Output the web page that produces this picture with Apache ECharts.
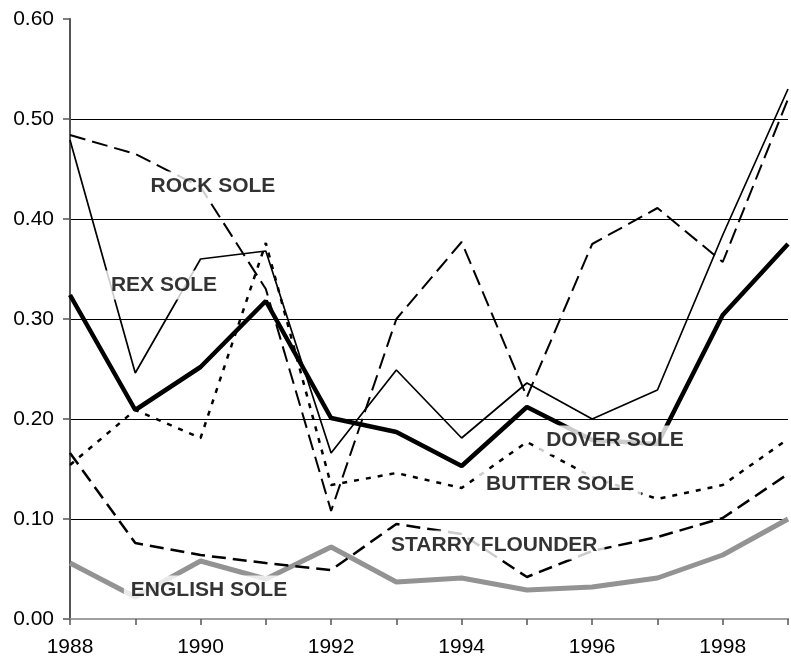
<!DOCTYPE html>
<html>
<head>
<meta charset="utf-8">
<script src="https://cdn.jsdelivr.net/npm/echarts@6/dist/echarts.min.js"></script>
<style>
html,body{margin:0;padding:0;background:#fff;}
#chart{width:791px;height:664px;}
</style>
</head>
<body>
<div id="chart"></div>
<script>
var years = [1988, 1989, 1990, 1991, 1992, 1993, 1994, 1995, 1996, 1997, 1998, 1999];
var rockSole       = [0.484, 0.465, 0.432, 0.330, 0.108, 0.300, 0.377, 0.222, 0.375, 0.411, 0.357, 0.520];
var rexSole        = [0.479, 0.246, 0.360, 0.368, 0.166, 0.249, 0.181, 0.236, 0.200, 0.229, 0.384, 0.530];
var doverSole      = [0.324, 0.209, 0.252, 0.318, 0.201, 0.187, 0.153, 0.212, 0.179, 0.175, 0.304, 0.375];
var butterSole     = [0.154, 0.209, 0.181, 0.376, 0.134, 0.146, 0.131, 0.177, 0.142, 0.120, 0.134, 0.180];
var starryFlounder = [0.166, 0.076, 0.064, 0.056, 0.049, 0.095, 0.085, 0.042, 0.068, 0.082, 0.101, 0.145];
var englishSole    = [0.056, 0.022, 0.058, 0.040, 0.072, 0.037, 0.041, 0.029, 0.032, 0.041, 0.064, 0.100];

var seriesNames = ['ROCK SOLE', 'REX SOLE', 'DOVER SOLE', 'BUTTER SOLE', 'STARRY FLOUNDER', 'ENGLISH SOLE'];
// annotation anchors (data space) for the in-plot series names
var labelYears  = [1990.19, 1989.44, 1996.35, 1995.51, 1994.50, 1990.13];
var labelValues = [0.433, 0.334, 0.179, 0.135, 0.074, 0.029];

function pairs(vals) { return years.map(function (y, i) { return [y, vals[i]]; }); }

var FONT = '"Liberation Sans", Arial, Helvetica, sans-serif';

var chart = echarts.init(document.getElementById('chart'), null, {renderer: 'canvas'});

function lineSeries(name, vals, style, z) {
  return {
    name: name, type: 'line', data: pairs(vals), symbol: 'none', z: z || 2,
    lineStyle: style, animation: false
  };
}

chart.setOption({
  animation: false,
  backgroundColor: '#ffffff',
  grid: {left: 70, top: 19, width: 725, height: 600},
  xAxis: [{
    type: 'value', min: 1988, max: 1999, interval: 1,
    axisLine: {show: true, onZero: false, lineStyle: {color: '#666', width: 2}},
    axisTick: {show: true, length: 6, lineStyle: {color: '#555', width: 1.5}},
    axisLabel: {
      fontFamily: FONT, fontSize: 21, color: '#000', margin: 18,
      formatter: function (v) { return (v % 2 === 0 && v < 1999) ? String(v) : ''; }
    },
    splitLine: {show: false}
  }, {
    type: 'value', min: 1988, max: 1999, position: 'top',
    axisLine: {show: true, lineStyle: {color: '#a0a0a0', width: 2}},
    axisTick: {show: false}, axisLabel: {show: false}, splitLine: {show: false}
  }],
  yAxis: {
    type: 'value', min: 0, max: 0.6, interval: 0.1,
    axisLine: {show: true, lineStyle: {color: '#555', width: 2}},
    axisTick: {show: true, length: 7, lineStyle: {color: '#555', width: 1.5}},
    axisLabel: {
      fontFamily: FONT, fontSize: 21, color: '#000', margin: 16,
      formatter: function (v) { return v.toFixed(2); }
    },
    splitLine: {show: true, showMinLine: false, showMaxLine: false, lineStyle: {color: '#000', width: 1}}
  },
  series: [
    lineSeries('ENGLISH SOLE', englishSole, {color: '#939393', width: 5}),
    lineSeries('STARRY FLOUNDER', starryFlounder, {color: '#000', width: 2.5, type: [14, 7], cap: 'butt'}),
    lineSeries('BUTTER SOLE', butterSole, {color: '#000', width: 2.5, type: [5, 7], cap: 'butt'}),
    lineSeries('ROCK SOLE', rockSole, {color: '#000', width: 2, type: [16, 7], cap: 'butt'}),
    lineSeries('REX SOLE', rexSole, {color: '#000', width: 1.7}),
    lineSeries('DOVER SOLE', doverSole, {color: '#000', width: 4.5}),
    {
      name: 'labels', type: 'scatter', symbolSize: 0, z: 20, silent: true,
      data: seriesNames.map(function (n, i) { return {name: n, value: [labelYears[i], labelValues[i]]}; }),
      label: {
        show: true, position: 'inside', formatter: '{b}',
        fontFamily: FONT, fontSize: 21, fontWeight: 'bold', color: '#000',
        textBorderWidth: 0, textBorderColor: 'transparent',
        backgroundColor: '#ffffff', padding: [4, 7]
      },
      animation: false
    }
  ]
});
</script>
</body>
</html>
